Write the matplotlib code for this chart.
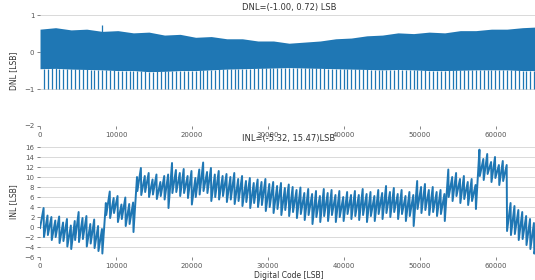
import numpy as np
import matplotlib
matplotlib.use("Agg")
import matplotlib.pyplot as plt

# ---- DNL: dense band envelope (read every 2048 codes) + missing-code spikes ----
dnl_env_codes = list(range(0, 65536, 2048)) + [65535]
dnl_top = [0.62, 0.66, 0.60, 0.62, 0.56, 0.58, 0.52, 0.54, 0.46, 0.48, 0.40,
           0.42, 0.36, 0.36, 0.30, 0.30, 0.24, 0.27, 0.30, 0.36, 0.38, 0.44,
           0.46, 0.52, 0.50, 0.54, 0.52, 0.58, 0.58, 0.62, 0.62, 0.66, 0.68]
dnl_bottom = [-0.45, -0.44, -0.46, -0.47, -0.48, -0.50, -0.50, -0.53, -0.52, -0.50,
              -0.50, -0.48, -0.46, -0.45, -0.44, -0.43, -0.42, -0.43, -0.44, -0.45,
              -0.46, -0.47, -0.48, -0.47, -0.48, -0.50, -0.50, -0.49, -0.48, -0.48,
              -0.48, -0.50, -0.50]
dnl_min, dnl_max = -1.00, 0.72
dnl_max_code = 8192

# ---- INL: valley (start) and peak (end) of each 512-code half tooth ----
inl_valleys = [-0.2, -2.0, -1.6, -2.6, -2.0, -3.2, -2.8, -3.9, -4.4, -2.6, -3.0, -2.4, -3.9, -3.3, -4.2, -4.8,
               -5.3, 2.4, 1.8, 2.8, 1.0, 1.6, 0.2, 0.6,
               -1.0, 7.2, 6.4, 7.0, 6.0, 6.5, 5.6, 6.2,
               5.5, 3.8, 6.8, 7.0, 6.2, 6.8, 5.8, 4.5,
               6.0, 6.5, 7.2, 6.8, 5.2, 6.0, 5.5, 6.2,
               5.0, 5.5, 4.6, 5.2, 4.2, 5.0, 3.8, 4.8,
               4.0, 4.4, 3.2, 4.0, 2.8, 3.6, 2.4, 3.4,
               2.2, 3.0, 1.8, 2.6, 1.4, 2.4, 0.6, 2.0,
               1.0, 2.2, 1.2, 2.4, 1.0, 2.0, 1.2, 2.6,
               1.6, 2.2, 1.4, 2.4, 1.0, 2.2, 1.2, 2.6,
               1.6, 2.8, 2.0, 3.0, 1.6, 2.6, 1.2, 2.2,
               0.2, 3.6, 2.8, 3.4, 2.4, 3.0, 2.2, 2.6,
               1.2, 6.0, 5.2, 6.2, 4.8, 5.6, 4.4, 5.2,
               3.6, 10.2, 9.4, 10.6, 9.0, 9.8, 8.4, 9.2,
               -0.8, -1.6, -1.4, -2.6, -2.4, -3.6, -4.4, -5.32]
inl_peaks = [3.8, 2.3, 2.0, 1.3, 2.1, 0.9, 1.6, 0.3, 1.2, 3.0, 1.8, 2.2, 0.6, 1.5, 0.2, -0.4,
             4.8, 7.1, 5.8, 6.2, 4.5, 5.9, 4.6, 4.9,
             10.0, 11.8, 10.2, 10.8, 9.5, 10.5, 9.0, 10.2,
             10.5, 12.8, 11.4, 10.8, 11.6, 10.2, 11.2, 9.8,
             11.5, 12.9, 11.0, 11.8, 10.5, 11.2, 10.2, 10.6,
             10.0, 10.8, 9.6, 10.2, 9.2, 9.8, 8.8, 9.5,
             9.0, 9.6, 8.6, 9.0, 8.2, 8.8, 7.8, 8.5,
             8.0, 7.4, 7.9, 6.8, 7.6, 6.6, 7.2, 6.2,
             7.6, 6.8, 7.4, 6.4, 7.2, 6.0, 7.0, 6.4,
             7.2, 6.4, 7.6, 6.6, 7.0, 6.2, 7.4, 6.8,
             8.2, 7.0, 7.8, 6.6, 7.4, 6.2, 7.0, 6.4,
             9.2, 8.0, 8.6, 7.4, 8.0, 7.0, 7.4, 6.6,
             11.5, 10.0, 10.8, 9.6, 10.2, 9.0, 9.6, 8.4,
             15.47, 13.6, 14.6, 13.0, 14.0, 12.4, 13.2, 12.4,
             4.8, 4.2, 3.4, 3.0, 2.2, 1.6, 0.8, -2.5]
half_tooth = 512

blue = "#1f77b4"
txt = "#333333"
plt.rcParams["font.family"] = "DejaVu Sans"

fig = plt.figure(figsize=(5.35, 2.8), dpi=100)
ax1 = fig.add_axes([0.0748, 0.55, 0.931, 0.396])
ax2 = fig.add_axes([0.0748, 0.082, 0.931, 0.393])

# DNL
starts = np.arange(len(inl_peaks)) * half_tooth
ax1.fill_between(dnl_env_codes, dnl_bottom, dnl_top, color=blue, lw=0)
ax1.vlines(starts[1:], dnl_min, np.interp(starts[1:], dnl_env_codes, dnl_bottom),
           color=blue, lw=0.9)
ax1.vlines([dnl_max_code], 0, dnl_max, color=blue, lw=0.9)
ax1.set_ylim(-2, 1)
ax1.set_yticks([-2, -1, 0, 1])
ax1.set_ylabel("DNL [LSB]", fontsize=5.5, color=txt, labelpad=4)
ax1.set_title("DNL=(-1.00, 0.72) LSB", fontsize=6, color=txt, pad=4)

# INL: ramp up across each half tooth, sharp step at its end
xs, ys = [], []
for k in range(len(inl_peaks)):
    xs += [starts[k] + 10, starts[k] + half_tooth - 40]
    ys += [inl_valleys[k], inl_peaks[k]]
xs[0] = 0
ax2.plot(xs, ys, color=blue, lw=1.4)
ax2.set_ylim(-6, 16)
ax2.set_yticks(range(-6, 17, 2))
ax2.set_ylabel("INL [LSB]", fontsize=5.5, color=txt, labelpad=4)
ax2.set_xlabel("Digital Code [LSB]", fontsize=5.5, color=txt, labelpad=2)
ax2.set_title("INL=(-5.32, 15.47)LSB", fontsize=6, color=txt, pad=4)

for ax in (ax1, ax2):
    ax.set_xlim(0, 65535)
    ax.set_xticks(range(0, 60001, 10000))
    for s in ax.spines.values():
        s.set_visible(False)
    ax.yaxis.grid(True, color="#d9d9d9", lw=0.7)
    ax.set_axisbelow(True)
    ax.tick_params(labelsize=5, colors="#555555", length=2, width=0.5, pad=2)
    ax.yaxis.get_gridlines()[0].set_visible(False)

fig.savefig("out.png", dpi=100)
